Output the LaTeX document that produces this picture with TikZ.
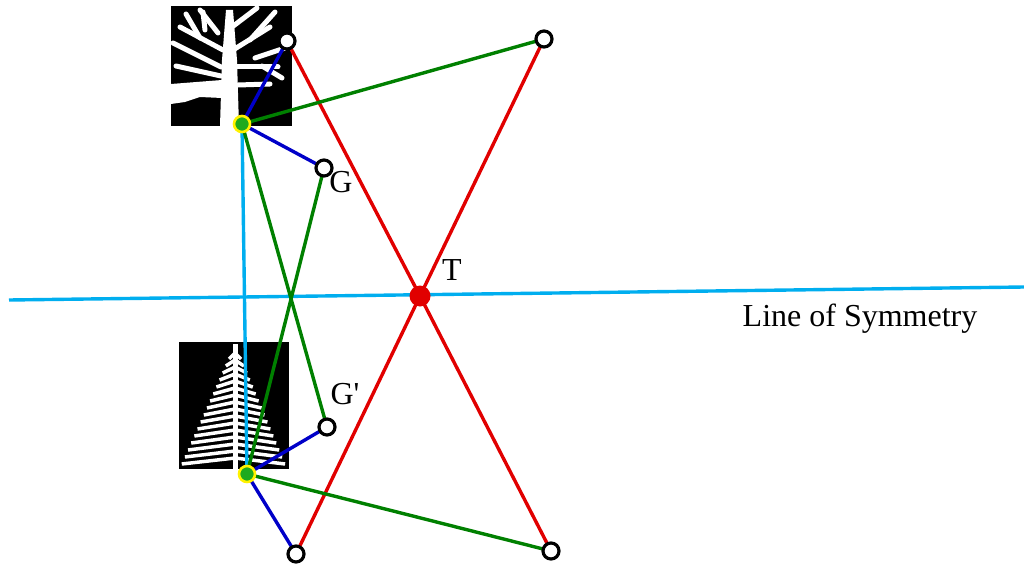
\documentclass[tikz,border=0pt]{standalone}
\usepackage{fontspec}
\setmainfont{Liberation Serif}
\definecolor{symcyan}{RGB}{0,174,239}
\definecolor{linkgreen}{RGB}{0,128,0}
\definecolor{linkblue}{RGB}{0,0,200}
\definecolor{linkred}{RGB}{225,0,0}
\definecolor{markgreen}{RGB}{30,170,30}
\begin{document}
\begin{tikzpicture}[x=1pt,y=-1pt,line width=3.4pt,
    endpt/.style={circle,draw=black,fill=white,line width=3.2pt,inner sep=0pt,minimum size=16pt},
    basept/.style={circle,draw=yellow,fill=markgreen,line width=2.6pt,inner sep=0pt,minimum size=16pt},
    centre/.style={circle,fill=linkred,inner sep=0pt,minimum size=21pt},
    lbl/.style={font=\fontsize{32}{32}\selectfont,inner sep=0pt},
    twig/.style={white,line width=5pt,line cap=round}]
    \useasboundingbox (0,0) rectangle (1024,564);
    % the two tree images
    \fill[black](171,6)rectangle(292,126);
    \fill[white](220,126)--(222,60)--(226,10)--(233,10)--(237,60)--(239,126)--cycle;
    \fill[white](171,84)--(222,80)--(222,98)--(200,97)--(185,102)--(171,104)--cycle;
    \draw[twig](221,67)--(173,43);
    \draw[twig](221,76)--(176,66);
    \draw[twig](223,50)--(180,27);
    \draw[twig](200,38)--(186,14);
    \draw[twig](218,33)--(200,10);
    \draw[twig](205,30)--(203,12);
    \draw[twig](233,50)--(270,27);
    \draw[twig](237,67)--(278,67);
    \draw[twig](238,85)--(270,84);
    \draw[twig](232,27)--(257,8);
    \draw[twig](250,40)--(275,12);
    \draw[twig](255,58)--(285,48);
    \draw[twig](262,66)--(282,78);
    \fill[black](179,342)rectangle(289,469);
    \draw[white,line width=5pt](235,344)--(235,469);
    \foreach \y in {353,360,...,458}{
        \draw[white,line width=3.5pt](235,\y)--++({-(6+(\y-353)*0.45)},6);
        \draw[white,line width=3.5pt](235,\y)--++({6+(\y-353)*0.42},6);
    }
    % points
    \coordinate(symL)at(9,300);
    \coordinate(symR)at(1024,287);
    \coordinate(P)at(242,124);
    \coordinate(Q)at(247,474);
    \coordinate(A)at(287,41);
    \coordinate(B)at(544,39);
    \coordinate(G)at(324,168);
    \coordinate(Gp)at(327,427);
    \coordinate(C)at(296,554);
    \coordinate(D)at(551,551);
    \coordinate(T)at(420,296);
    % connectors
    \draw[symcyan](symL)--(symR);
    \draw[symcyan](P)--(Q);
    \draw[linkred](A)--(T)--(D);
    \draw[linkred](B)--(T)--(C);
    \draw[linkgreen](P)--(B);
    \draw[linkgreen](P)--(Gp);
    \draw[linkgreen](Q)--(G);
    \draw[linkgreen](Q)--(D);
    \draw[linkblue](P)--(A);
    \draw[linkblue](P)--(G);
    \draw[linkblue](Q)--(Gp);
    \draw[linkblue](Q)--(C);
    % markers
    \node[centre](Tm)at(T){};
    \node[basept](Pm)at(P){};
    \node[basept](Qm)at(Q){};
    \foreach \p in {A,B,G,Gp,C,D}{\node[endpt](\p m)at(\p){};}
    % labels
    \node[lbl](glab)at(341,182){G};
    \node[lbl](gplab)at(345,394){G\textquotesingle};
    \node[lbl](tlab)at(452,270){T};
    \node[lbl](symlab)at(860,319){Line of Symmetry};
\end{tikzpicture}
\end{document}
